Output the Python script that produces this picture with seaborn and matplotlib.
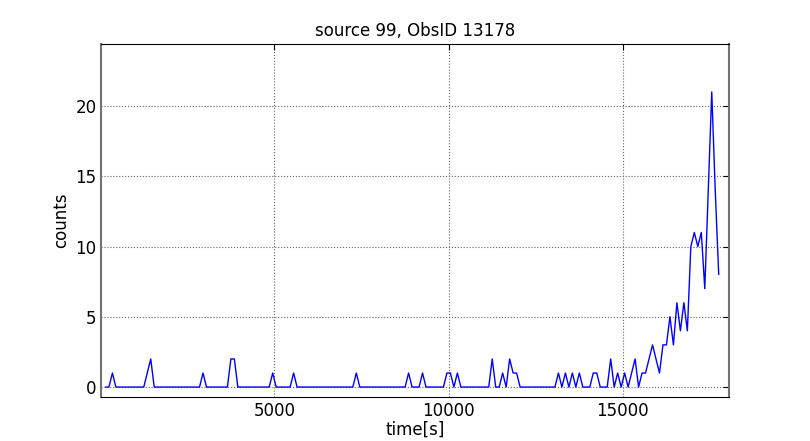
import numpy as np
import pandas as pd
import matplotlib
matplotlib.use("Agg")
import matplotlib.pyplot as plt
import seaborn as sns

# curva de luz: cuentas por bin de 100 s
t_inicio = 150
ancho_bin = 100
cuentas = [
    0, 0, 1, 0, 0, 0, 0, 0, 0, 0,
    0, 0, 1, 2, 0, 0, 0, 0, 0, 0,
    0, 0, 0, 0, 0, 0, 0, 0, 1, 0,
    0, 0, 0, 0, 0, 0, 2, 2, 0, 0,
    0, 0, 0, 0, 0, 0, 0, 0, 1, 0,
    0, 0, 0, 0, 1, 0, 0, 0, 0, 0,
    0, 0, 0, 0, 0, 0, 0, 0, 0, 0,
    0, 0, 1, 0, 0, 0, 0, 0, 0, 0,
    0, 0, 0, 0, 0, 0, 0, 1, 0, 0,
    0, 1, 0, 0, 0, 0, 0, 0, 1, 1,
    0, 1, 0, 0, 0, 0, 0, 0, 0, 0,
    0, 2, 0, 0, 1, 0, 2, 1, 1, 0,
    0, 0, 0, 0, 0, 0, 0, 0, 0, 0,
    1, 0, 1, 0, 1, 0, 1, 0, 0, 0,
    1, 1, 0, 0, 0, 2, 0, 1, 0, 1,
    0, 1, 2, 0, 1, 1, 2, 3, 2, 1,
    3, 3, 5, 3, 6, 4, 6, 4, 10, 11,
    10, 11, 7, 14, 21, 14, 8,
]
tiempo = t_inicio + ancho_bin * np.arange(len(cuentas))
titulo = "source 99, ObsID 13178"

df = pd.DataFrame({"time": tiempo, "counts": cuentas})

sns.set_style("white")
plt.rcParams["font.family"] = ["DejaVu Sans"]
plt.rcParams["text.color"] = "black"
plt.rcParams["axes.labelcolor"] = "black"
plt.rcParams["xtick.direction"] = "in"
plt.rcParams["ytick.direction"] = "in"
plt.rcParams["xtick.top"] = True
plt.rcParams["ytick.right"] = True
plt.rcParams["xtick.major.size"] = 4
plt.rcParams["ytick.major.size"] = 4

fig = plt.figure(figsize=(8.1, 4.41), dpi=100)
ax = fig.add_axes([0.125, 0.1, 0.775, 0.8])
sns.lineplot(data=df, x="time", y="counts", color="blue", linewidth=1,
             estimator=None, ax=ax)

ax.set_xlim(30, 18045)
ax.set_ylim(-0.7, 24.4)
ax.set_xticks([5000, 10000, 15000])
ax.set_yticks([0, 5, 10, 15, 20])
ax.grid(True, color="0.4", linestyle=":", linewidth=0.8)
ax.tick_params(labelsize=12, colors="black", width=0.8)
for lado in ["top", "bottom"]:
    ax.spines[lado].set_color("black")
for lado in ["left", "right"]:
    ax.spines[lado].set_color("0.45")
    ax.spines[lado].set_linewidth(1.5)
ax.set_xlabel("time[s]", fontsize=12, labelpad=1, color="black")
ax.set_ylabel("counts", fontsize=12, color="black")
ax.set_title(titulo, fontsize=12, color="black")

fig.savefig("out.png", dpi=100)
